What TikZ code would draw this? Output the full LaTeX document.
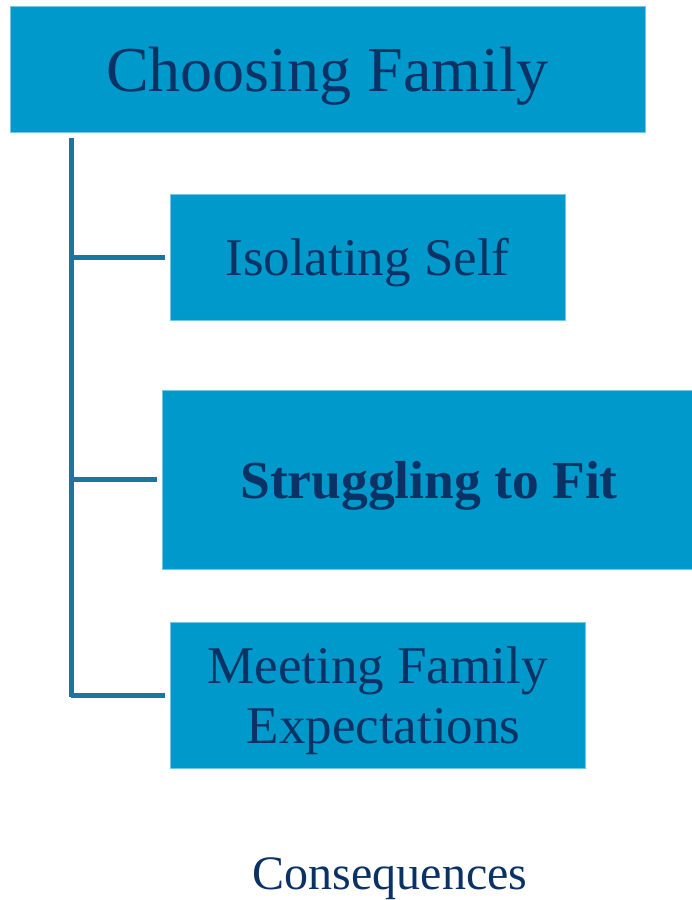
\documentclass[tikz,border=0pt]{standalone}
\usepackage{fontspec}
\setmainfont{Liberation Serif}
\definecolor{boxfill}{RGB}{0,153,204}
\definecolor{boxedge}{RGB}{110,200,230}
\definecolor{linecol}{RGB}{22,120,160}
\definecolor{txtcol}{RGB}{10,50,100}
\begin{document}
\begin{tikzpicture}[x=1pt,y=-1pt,
  box/.style={fill=boxfill,draw=boxedge,line width=1pt,inner sep=0pt,text=txtcol,align=center,text depth=0pt},
  conn/.style={draw=linecol,line width=5pt}]
\useasboundingbox (0,0) rectangle (692,900);
\node[box,minimum width=635pt,minimum height=126pt,font=\fontsize{64}{70}\selectfont] (top) at (327.5,69.5) {Choosing Family};
\node[box,minimum width=395pt,minimum height=126pt,font=\fontsize{53}{58}\selectfont] (iso) at (367.5,257) {Isolating Self};
\node[box,minimum width=530pt,minimum height=179pt,font=\fontsize{53.5}{58}\selectfont\bfseries] (fit) at (427,479.5) {\hspace{4pt}Struggling to Fit};
\node[box,minimum width=415pt,minimum height=146pt,font=\fontsize{53}{60}\selectfont] (meet) at (377.5,695) {Meeting Family\\\hspace{12pt}Expectations};
\node[text=txtcol,font=\fontsize{48}{54}\selectfont,inner sep=0pt] (cons) at (390,879) {Consequences};
\coordinate (t0) at (71,138);
\coordinate (t1) at (71,697);
\draw[conn] (t0) -- (t1);
\draw[conn] (t0 |- iso.west) -- ([xshift=-5pt]iso.west);
\draw[conn] (t0 |- fit.west) -- ([xshift=-5pt]fit.west);
\draw[conn] (t0 |- meet.west) -- ([xshift=-5pt]meet.west);
\end{tikzpicture}
\end{document}
